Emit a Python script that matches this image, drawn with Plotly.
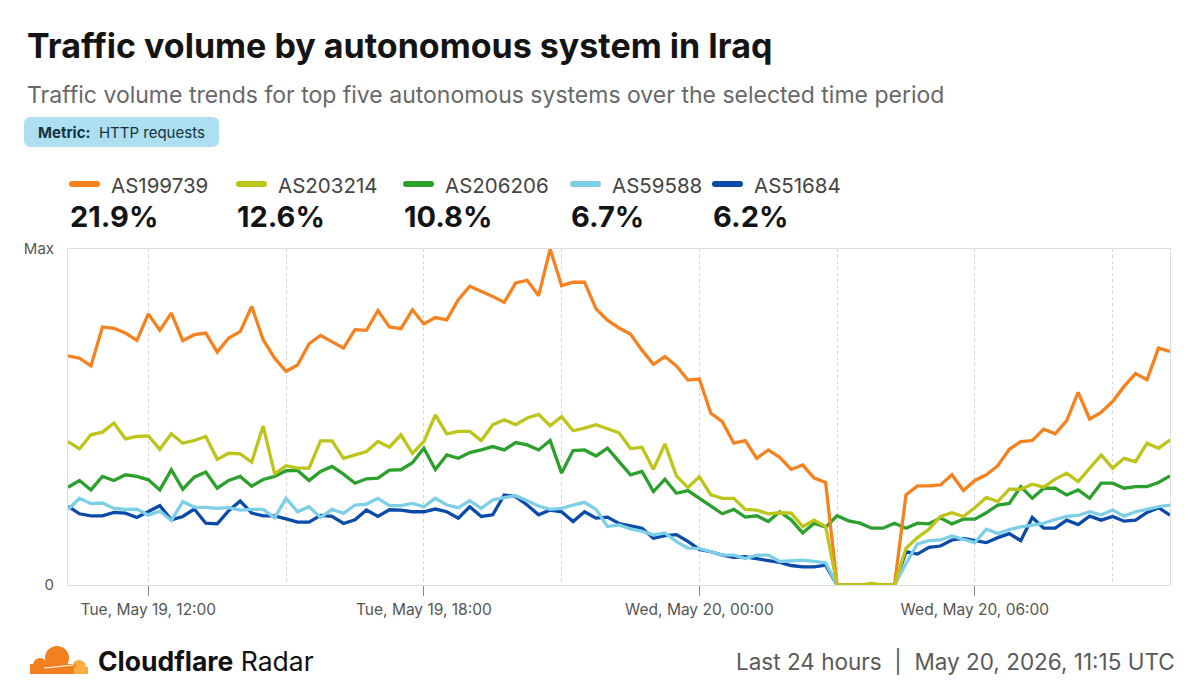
import pandas as pd
import plotly.graph_objects as go

# 15-minute samples, last 24 hours (values are % of the max)
times = pd.date_range("2026-05-19 10:15", "2026-05-20 10:15", freq="15min")

as_names = ["AS199739", "AS203214", "AS206206", "AS59588", "AS51684"]
as_shares = ["21.9%", "12.6%", "10.8%", "6.7%", "6.2%"]

as199739 = [68.2, 67.5, 65.2, 76.8, 76.4, 75.0, 72.8, 80.7, 75.8, 80.9,
            72.7, 74.5, 75.0, 69.3, 73.5, 75.4, 82.9, 73.0, 67.5, 63.6,
            65.5, 71.8, 74.3, 72.5, 70.5, 76.0, 75.8, 81.7, 76.8, 76.3,
            81.9, 77.7, 79.6, 78.9, 84.9, 88.9, 87.4, 85.9, 84.1, 89.9,
            90.7, 86.1, 100.0, 89.1, 90.1, 90.1, 82.2, 78.8, 76.5, 74.7,
            69.9, 65.7, 68.0, 65.2, 61.0, 61.3, 51.1, 48.6, 42.2, 43.0,
            37.7, 40.2, 38.0, 34.4, 35.7, 31.8, 30.5, 0, 0, 0,
            0, 0, 0, 26.8, 29.5, 29.5, 29.8, 32.8, 28.1, 31.1,
            32.8, 35.5, 40.4, 42.7, 43.0, 46.4, 45.0, 48.9, 57.3, 49.4,
            51.4, 54.6, 59.1, 62.9, 61.1, 70.5, 69.5]

as203214 = [42.7, 40.5, 44.7, 45.5, 48.2, 43.5, 44.2, 44.4, 40.4, 45.0,
            42.2, 43.0, 44.2, 37.4, 39.2, 39.0, 36.6, 47.3, 33.1, 35.5,
            34.8, 34.8, 42.9, 42.9, 37.7, 38.7, 39.7, 42.7, 41.0, 44.7,
            39.2, 42.7, 50.6, 45.0, 45.7, 45.7, 43.0, 47.7, 49.2, 47.7,
            49.7, 50.8, 47.4, 50.1, 45.9, 46.7, 47.7, 46.5, 45.3, 40.6,
            41.0, 34.4, 42.0, 32.5, 29.0, 32.2, 26.8, 25.8, 25.8, 22.5,
            22.3, 21.2, 21.5, 21.4, 17.4, 19.3, 17.4, 0, 0, 0,
            0.5, 0, 0, 10.9, 14.1, 16.6, 20.4, 21.5, 20.4, 23.0,
            26.1, 24.8, 28.5, 28.5, 30.0, 29.1, 31.5, 33.3, 30.8, 34.8,
            38.7, 34.8, 37.7, 36.7, 42.2, 40.7, 43.2]

as206206 = [29.1, 31.1, 28.3, 32.3, 31.1, 32.8, 32.3, 31.3, 28.3, 34.3,
            28.5, 32.1, 33.6, 28.8, 31.1, 32.3, 29.4, 31.4, 32.3, 34.0,
            34.1, 31.1, 33.8, 35.3, 33.0, 30.3, 31.6, 31.8, 34.2, 34.3,
            36.4, 40.7, 34.4, 38.7, 37.7, 39.4, 40.2, 41.2, 40.2, 42.4,
            41.7, 40.2, 43.0, 33.3, 40.0, 40.2, 38.4, 40.7, 36.7, 32.8,
            33.8, 27.8, 31.5, 27.3, 28.1, 25.8, 23.3, 21.2, 22.5, 20.2,
            20.6, 18.9, 21.8, 19.4, 15.5, 18.4, 17.2, 20.6, 19.1, 18.4,
            16.9, 16.9, 18.4, 16.9, 18.4, 18.2, 19.9, 18.2, 19.6, 19.6,
            21.5, 23.8, 24.3, 29.3, 25.8, 28.8, 28.8, 26.8, 28.3, 25.8,
            30.3, 30.3, 28.8, 29.3, 29.3, 30.5, 32.5]

as59588 = [22.5, 25.8, 24.2, 24.4, 22.8, 22.5, 22.6, 20.8, 22.0, 19.2,
           24.8, 23.2, 23.1, 22.8, 23.0, 22.3, 22.5, 22.5, 20.0, 25.8,
           21.8, 23.3, 20.1, 22.5, 21.3, 23.8, 24.1, 25.8, 23.6, 23.6,
           24.3, 23.3, 25.8, 23.8, 23.0, 25.1, 22.8, 25.3, 26.0, 26.6,
           25.1, 23.5, 22.5, 22.8, 23.8, 24.6, 22.5, 17.4, 17.9, 16.7,
           16.0, 14.9, 15.5, 12.9, 11.0, 10.9, 9.9, 8.9, 8.9, 7.9,
           8.9, 8.9, 7.0, 7.1, 7.4, 7.0, 6.6, 0, 0, 0,
           0, 0, 0, 6.4, 12.2, 13.2, 13.4, 14.6, 13.6, 12.6,
           16.6, 15.3, 16.5, 17.3, 17.8, 18.4, 19.5, 20.4, 20.7, 21.8,
           20.8, 22.3, 20.5, 21.8, 22.5, 23.3, 23.8]

as51684 = [23.4, 21.2, 20.6, 20.6, 21.6, 21.4, 20.1, 21.8, 23.6, 19.4,
           20.4, 22.6, 18.4, 18.2, 22.1, 25.0, 21.4, 20.6, 20.6, 19.7,
           18.7, 18.7, 20.7, 20.4, 18.3, 19.4, 22.3, 20.4, 22.4, 22.3,
           21.8, 21.8, 22.6, 21.8, 19.9, 23.3, 20.4, 20.9, 26.8, 26.3,
           23.8, 20.9, 22.3, 21.8, 18.9, 21.8, 19.9, 20.2, 18.3, 17.6,
           16.9, 13.9, 14.7, 15.0, 13.0, 10.6, 9.9, 8.9, 8.2, 8.4,
           7.9, 7.4, 6.7, 5.8, 5.4, 5.4, 5.9, 0, 0, 0,
           0, 0, 0, 9.9, 9.2, 11.2, 11.6, 13.4, 13.9, 13.2,
           12.6, 14.1, 15.3, 13.2, 20.1, 16.9, 16.9, 19.3, 18.0, 20.5,
           19.3, 20.4, 19.0, 19.3, 21.6, 23.0, 20.8]

tick_vals = ["2026-05-19 12:00", "2026-05-19 18:00", "2026-05-20 00:00", "2026-05-20 06:00"]
tick_text = ["Tue, May 19, 12:00", "Tue, May 19, 18:00", "Wed, May 20, 00:00", "Wed, May 20, 06:00"]

series = [as199739, as203214, as206206, as59588, as51684]
colors = ["#f6821f", "#bdc41a", "#2ca02c", "#7dcfe8", "#0a4aa8"]

# page has an 8px body margin, so everything below is laid out in page pixels
OFF = 8
W, H = 1200 - OFF, 699 - OFF
L, R, T, B = 68, 1170, 249, 585   # plot area in page pixels


def px(x):
    return (x - L) / (R - L)


def py(y):
    return (B - y) / (B - T)


FONT = "Inter"

fig = go.Figure()

# draw order: blues under, then green, orange, olive
for i in [4, 3, 2, 0, 1]:
    fig.add_trace(go.Scatter(x=times, y=series[i], mode="lines", name=as_names[i],
                             line=dict(color=colors[i], width=3.3), showlegend=False))

shapes = []
annotations = []

# title + subtitle
annotations.append(dict(x=px(25), y=py(46), text="Traffic volume by autonomous system in Iraq",
                        font=dict(family=FONT, size=34, color="#141414", weight=700)))
annotations.append(dict(x=px(25), y=py(95),
                        text="Traffic volume trends for top five autonomous systems over the selected time period",
                        font=dict(family=FONT, size=23, color="#686868")))


# rounded rect path in paper coords
def rrect(x0, y0, x1, y1, r):
    a0, a1 = px(x0), px(x1)
    b0, b1 = py(y0), py(y1)
    rx = r / (R - L)
    ry = r / (B - T)
    return (f"M {a0 + rx},{b0} L {a1 - rx},{b0} Q {a1},{b0} {a1},{b0 - ry} "
            f"L {a1},{b1 + ry} Q {a1},{b1} {a1 - rx},{b1} L {a0 + rx},{b1} "
            f"Q {a0},{b1} {a0},{b1 + ry} L {a0},{b0 - ry} Q {a0},{b0} {a0 + rx},{b0} Z")


# metric badge
shapes.append(dict(type="path", path=rrect(24, 117, 219, 147, 7), xref="paper", yref="paper",
                   fillcolor="#ace0f1", line=dict(width=0)))
annotations.append(dict(x=px(36), y=py(132.5), text="<b>Metric:</b>  HTTP requests",
                        font=dict(family=FONT, size=15, color="#15323f")))

# legend with shares
legend_x = [69, 236, 403, 570, 712]
for i, x0 in enumerate(legend_x):
    shapes.append(dict(type="path", path=rrect(x0, 181, x0 + 31, 187, 3), xref="paper", yref="paper",
                       fillcolor=colors[i], line=dict(width=0)))
    annotations.append(dict(x=px(x0 + 40), y=py(185), text=as_names[i],
                            font=dict(family=FONT, size=20.5, color="#444444")))
    annotations.append(dict(x=px(x0 - 1), y=py(217), text=as_shares[i],
                            font=dict(family=FONT, size=29, color="#141414", weight=700)))

# footer: logo + texts
for cx, cy, r, c in [(57, 658, 12, "#f38020"), (40, 665, 7, "#f38020"), (79, 667, 7, "#fbad41")]:
    shapes.append(dict(type="circle", xref="paper", yref="paper", x0=px(cx - r), x1=px(cx + r),
                       y0=py(cy - r), y1=py(cy + r), fillcolor=c, line=dict(width=0)))
shapes.append(dict(type="rect", xref="paper", yref="paper", x0=px(30), x1=px(76), y0=py(664),
                   y1=py(674), fillcolor="#f38020", line=dict(width=0)))
shapes.append(dict(type="rect", xref="paper", yref="paper", x0=px(74), x1=px(88), y0=py(667),
                   y1=py(674), fillcolor="#fbad41", line=dict(width=0)))
shapes.append(dict(type="line", xref="paper", yref="paper", x0=px(44), x1=px(74), y0=py(668),
                   y1=py(665), line=dict(color="white", width=1.2)))

annotations.append(dict(x=px(96), y=py(661), text="<b>Cloudflare</b> Radar",
                        font=dict(family=FONT, size=26.5, color="#111111")))
annotations.append(dict(x=px(1177), y=py(661), xanchor="right",
                        text="Last 24 hours  |  May 20, 2026, 11:15 UTC",
                        font=dict(family=FONT, size=22.5, color="#5a5a5a")))

for a in annotations:
    a.setdefault("xref", "paper")
    a.setdefault("yref", "paper")
    a.setdefault("xanchor", "left")
    a.setdefault("yanchor", "middle")
    a["showarrow"] = False

fig.update_layout(
    width=W, height=H,
    margin=dict(l=L - OFF, r=W - (R - OFF), t=T - OFF, b=H - (B - OFF), pad=0),
    paper_bgcolor="white", plot_bgcolor="white",
    font=dict(family=FONT, color="#555555"),
    shapes=shapes, annotations=annotations,
    xaxis=dict(range=[times[0], times[-1]], tickmode="array", tickvals=tick_vals, ticktext=tick_text,
               ticks="outside", ticklen=10, tickcolor="#8a8a8a", tickwidth=1.3,
               tickfont=dict(size=15.5, color="#555555"),
               showgrid=True, gridcolor="#d6d6d6", griddash="dot", gridwidth=1,
               minor=dict(dtick=3 * 3600 * 1000, tick0="2026-05-19 00:00", showgrid=True,
                          gridcolor="#d6d6d6", griddash="dot", gridwidth=1),
               showline=True, linecolor="#dddddd", linewidth=1, mirror=True, zeroline=False),
    yaxis=dict(range=[0, 100], tickmode="array", tickvals=[0, 100], ticktext=["0", "Max"],
               tickfont=dict(size=15, color="#555555"), ticklabelstandoff=10,
               showgrid=False, zeroline=False,
               showline=True, linecolor="#dddddd", linewidth=1, mirror=True),
)

fig.write_html("out.html")
